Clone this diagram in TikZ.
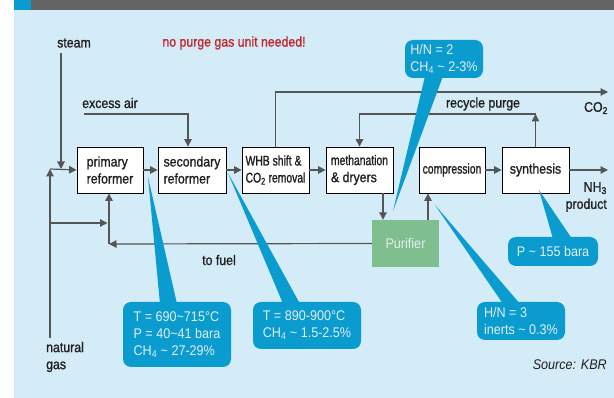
\documentclass[tikz,border=0pt]{standalone}
\usepackage{fontspec}
\setmainfont{Liberation Sans}[FakeStretch=0.9]
\newfontfamily\heavysf{Liberation Sans}[FakeStretch=0.88,FakeBold=1.2]
\newfontfamily\narrowsf{Liberation Sans}[FakeStretch=0.74,FakeBold=1.2]
\usepackage{tikz}
\usetikzlibrary{arrows.meta,positioning}

\definecolor{panelblue}{HTML}{D4ECF8}
\definecolor{headgrey}{HTML}{636363}
\definecolor{calloutblue}{HTML}{0A9BCF}
\definecolor{callouttext}{HTML}{E4EEF3}
\definecolor{purigreen}{HTML}{7FBF8D}
\definecolor{linegrey}{HTML}{555555}
\definecolor{labelgrey}{HTML}{231F20}
\definecolor{alertred}{HTML}{C1272D}

\tikzset{
  unit/.style={draw=black,line width=0.8pt,fill=white,minimum width=66pt,minimum height=46pt,align=left,inner sep=2pt,text=labelgrey,font=\fontsize{14}{17}\heavysf},
  flow/.style={draw=linegrey,line width=1.2pt,-{Triangle[length=7.5pt,width=7.5pt]}},
  callout/.style={fill=calloutblue,rounded corners=8pt,text=callouttext,align=left,inner sep=0pt},
  lbl/.style={text=labelgrey,inner sep=0pt,font=\fontsize{14}{17}\heavysf}
}

\begin{document}
\begin{tikzpicture}[x=1pt,y=-1pt,font=\fontsize{14}{17}\selectfont]%
  \useasboundingbox (0,0) rectangle (614,398);
  \fill[panelblue] (14,0) rectangle (614,398); %%
  \fill[headgrey] (14,0) rectangle (614,10); %%
  \fill[calloutblue] (14,0) rectangle (31,10); %%
  \begin{scope}
    \tikzstyle{every node}=[unit];%%
    \node (prim) at (110,170) {primary\\reformer}; %%
    \node[minimum width=68pt] (sec) at (192,170) {secondary\\reformer}; %%
    \node[minimum width=67pt,font=\fontsize{14}{17}\narrowsf] (whb) at (275.5,170) {WHB shift \&\\CO\textsubscript{2} removal}; %%
    \node[minimum width=67pt] (meth) at (359.5,170) {{\narrowsf methanation}\\\& dryers}; %%
    \node[font=\fontsize{14}{17}\narrowsf] (comp) at (452,170) {compression}; %%
    \node[minimum width=67pt] (synth) at (535.5,170) {synthesis}; %%
  \end{scope}
  \node[fill=purigreen,minimum width=67pt,minimum height=47pt,text=callouttext] (puri) at (405.5,243.5) {Purifier}; %%
  % labels
  \node[lbl] (steamlbl) at (74,43) {steam}; %%
  \node[lbl,text=alertred] (note) at (234,43) {no purge gas unit needed!}; %%
  \node[lbl] (airlbl) at (110,103) {excess air}; %%
  \node[lbl] (fuellbl) at (219,260) {to fuel}; %%
  \node[lbl] (purgelbl) at (483,104) {recycle purge}; %%
  \node[lbl] (co2lbl) at (596,108) {CO\textsubscript{2}}; %%
  \node[lbl,align=right,anchor=east] (nh3lbl) at (607,197) {NH\textsubscript{3}\\product}; %%
  \node[lbl,align=left,anchor=west] (nglbl) at (46,357) {natural\\gas}; %%
  \node[lbl,anchor=east,font=\fontsize{14}{17}\selectfont\itshape] (srclbl) at (607,365) {Source: KBR}; %%
  % free ends
  \coordinate (st) at (61,53); %%
  \coordinate (ng) at (50,338); %%
  \coordinate (mix) at (50,169); %%
  \coordinate (br) at (50,223); %%
  \coordinate (fuel) at (109,244); %%
  \coordinate (air) at (84,114); %%
  \coordinate (co2) at (608,92); %%
  \coordinate (rc) at (535.5,114); %%
  \coordinate (nh3) at (608,170); %%
  % flows
  \draw[flow] (st) -- (st |- mix); %%
  \draw[flow] (ng) -- (mix); %%
  \draw[flow] (mix) -- (prim.west); %%
  \draw[flow,shorten >=1.5pt] (br) -- (br -| fuel); %%
  \draw[flow] (puri.west) -- (fuel); %%
  \draw[flow] (fuel) -- (fuel |- prim.south); %%
  \draw[flow] (air) -| ([xshift=-4pt]sec.north); %%
  \draw[flow] (prim) -- (sec); %%
  \draw[flow] (sec) -- (whb); %%
  \draw[flow] (whb) -- (meth); %%
  \draw[flow] (comp) -- (synth); %%
  \draw[flow] (synth) -- (nh3); %%
  \draw[flow] (whb.north) |- (co2); %%
  \draw[flow] (synth.north) -- (rc); %%
  \draw[flow] (rc) -| (meth.north); %%
  \draw[flow] ([xshift=-22.5pt]puri.north |- meth.south) -- ([xshift=-22.5pt]puri.north); %%
  \draw[flow] ([xshift=22.5pt]puri.north) -- ([xshift=22.5pt]puri.north |- comp.south); %%
  % callouts
  \node[callout,minimum width=78pt,minimum height=38pt] (c1) at (444,59) {H/N = 2\\CH\textsubscript{4} \textasciitilde{} 2-3\%}; %%
  \node[callout,minimum width=108pt,minimum height=65pt] (c2) at (177,334.5) {T = 690\textasciitilde715°C\\P = 40\textasciitilde41 bara\\CH\textsubscript{4} \textasciitilde{} 27-29\%}; %%
  \node[callout,minimum width=108pt,minimum height=47pt] (c3) at (307,325.5) {T = 890-900°C\\CH\textsubscript{4} \textasciitilde{} 1.5-2.5\%}; %%
  \node[callout,minimum width=88pt,minimum height=38pt] (c4) at (521,321) {H/N = 3\\inerts \textasciitilde{} 0.3\%}; %%
  \node[callout,minimum width=90pt,minimum height=29pt] (c5) at (553,251.5) {P \textasciitilde{} 155 bara}; %%
  \coordinate (t1) at (393,211); %%
  \coordinate (t2) at (148,177); %%
  \coordinate (t3) at (228,173); %%
  \coordinate (t4) at (435,205); %%
  \coordinate (t5) at (539,190); %%
  \fill[calloutblue] (t1) -- ([xshift=-19pt,yshift=2pt]c1.south) -- ([xshift=-1pt,yshift=2pt]c1.south) -- cycle; %%
  \fill[calloutblue] (t2) -- ([xshift=-17pt,yshift=-2pt]c2.north) -- ([yshift=-2pt]c2.north) -- cycle; %%
  \fill[calloutblue] (t3) -- ([xshift=-24pt,yshift=-2pt]c3.north) -- ([xshift=-7pt,yshift=-2pt]c3.north) -- cycle; %%
  \fill[calloutblue] (t4) -- ([xshift=-18pt,yshift=-2pt]c4.north) -- ([xshift=-1pt,yshift=-2pt]c4.north) -- cycle; %%
  \fill[calloutblue] (t5) -- ([yshift=-2pt]c5.north) -- ([xshift=19pt,yshift=-2pt]c5.north) -- cycle; %%
\end{tikzpicture}
\end{document}
